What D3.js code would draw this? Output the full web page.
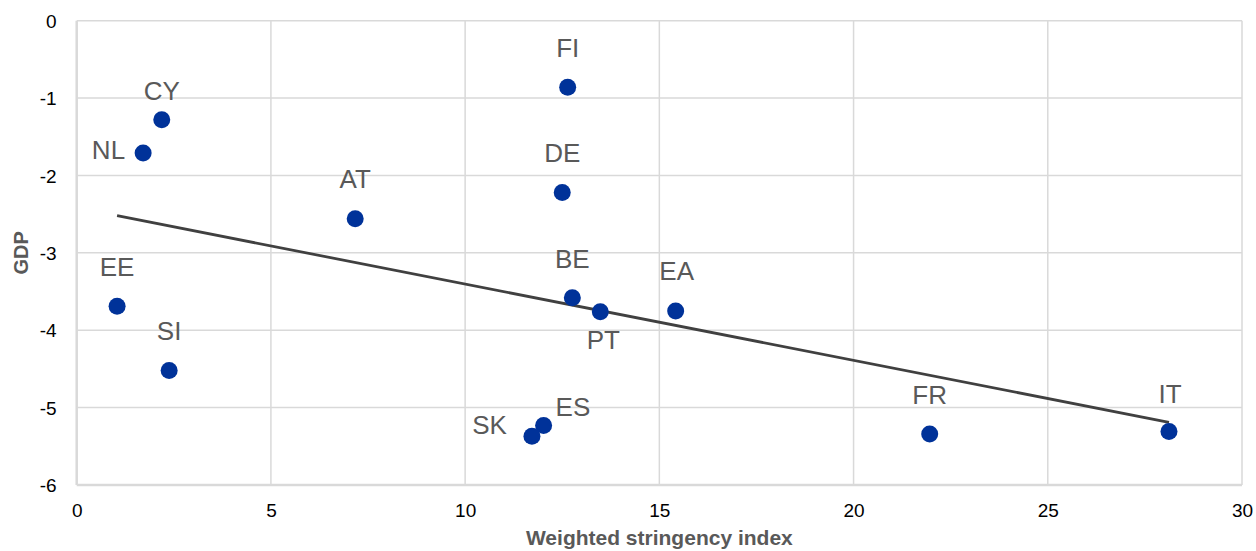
<!DOCTYPE html>
<html><head><meta charset="utf-8">
<script src="https://cdn.jsdelivr.net/npm/d3@7/dist/d3.min.js"></script>
<style>body{margin:0;background:#fff;}svg{display:block;font-family:"Liberation Sans",Arial,sans-serif;}</style>
</head><body><svg id="c" width="1256" height="551"></svg>
<script>
const countries = ["CY","NL","FI","DE","AT","EE","SI","BE","PT","EA","SK","ES","FR","IT"];
const stringency = [2.19,1.71,12.64,12.50,7.17,1.04,2.38,12.76,13.48,15.42,11.72,12.02,21.96,28.12];
const gdp = [-1.28,-1.71,-0.86,-2.22,-2.56,-3.69,-4.52,-3.58,-3.76,-3.75,-5.37,-5.23,-5.34,-5.31];
const trendX = [1.04, 28.12];
const trendY = [-2.52, -5.19];
const xTicks = [0,5,10,15,20,25,30];
const yTicks = [0,-1,-2,-3,-4,-5,-6];
// label placement: [dx, dy, anchor]
const labelPlace = {
  CY:[0,-20,"middle"], NL:[-18,6,"end"], FI:[0,-30,"middle"], DE:[0,-30,"middle"],
  AT:[0,-31,"middle"], EE:[0,-30,"middle"], SI:[0,-30,"middle"], BE:[0,-30,"middle"],
  PT:[3,37,"middle"], EA:[1,-31,"middle"], SK:[-25,-2,"end"], ES:[12,-9,"start"],
  FR:[0,-30,"middle"], IT:[1,-29,"middle"]
};
const svg = d3.select("#c");
const L=76.7, R=1242, T=20.7, B=485;
const x = d3.scaleLinear().domain([0,30]).range([L,R]);
const y = d3.scaleLinear().domain([-6,0]).range([B,T]);
const grid="#d9d9d9";
// gridlines
svg.append("g").selectAll("line").data(xTicks).join("line")
  .attr("x1",d=>x(d)).attr("x2",d=>x(d)).attr("y1",T).attr("y2",B)
  .attr("stroke",grid).attr("stroke-width",d=>(d===0)?2.5:1.5);
svg.append("g").selectAll("line").data(yTicks).join("line")
  .attr("x1",L).attr("x2",R).attr("y1",d=>y(d)).attr("y2",d=>y(d))
  .attr("stroke",grid).attr("stroke-width",d=>(d===-6)?2.5:1.5);
// tick labels via axes
const xa = svg.append("g").attr("transform",`translate(0,${B})`)
  .call(d3.axisBottom(x).tickValues(xTicks).tickSize(0).tickPadding(19).tickFormat(d3.format("d")));
const ya = svg.append("g").attr("transform",`translate(${L},0)`)
  .call(d3.axisLeft(y).tickValues(yTicks).tickSize(0).tickPadding(20).tickFormat(d=>d3.format("d")(d).replace("−","-")));
[xa,ya].forEach(a=>{a.select(".domain").remove();
  a.selectAll("text").attr("font-size",19).attr("fill","#000").attr("font-family","Liberation Sans, Arial, sans-serif");});
ya.selectAll("text").attr("dy","0.35em");
xa.selectAll("text").attr("dy","0.71em");
// trend line
svg.append("line").attr("x1",x(trendX[0])).attr("y1",y(trendY[0]))
  .attr("x2",x(trendX[1])).attr("y2",y(trendY[1]))
  .attr("stroke","#404040").attr("stroke-width",2.75);
// points
const data = countries.map((c,i)=>({c, sx:stringency[i], g:gdp[i]}));
svg.append("g").selectAll("circle").data(data).join("circle")
  .attr("cx",d=>x(d.sx)).attr("cy",d=>y(d.g)).attr("r",8.5).attr("fill","#003299");
svg.append("g").selectAll("text").data(data).join("text")
  .attr("x",d=>x(d.sx)+labelPlace[d.c][0]).attr("y",d=>y(d.g)+labelPlace[d.c][1])
  .attr("text-anchor",d=>labelPlace[d.c][2]).attr("font-size",26).attr("fill","#595959")
  .text(d=>d.c);
// axis titles
svg.append("text").attr("x",(L+R)/2).attr("y",545).attr("text-anchor","middle")
  .attr("font-size",21).attr("font-weight","bold").attr("fill","#595959").text("Weighted stringency index");
svg.append("text").attr("transform",`translate(28,${(T+B)/2}) rotate(-90)`).attr("text-anchor","middle")
  .attr("font-size",20).attr("font-weight","bold").attr("fill","#595959").text("GDP");
</script></body></html>
